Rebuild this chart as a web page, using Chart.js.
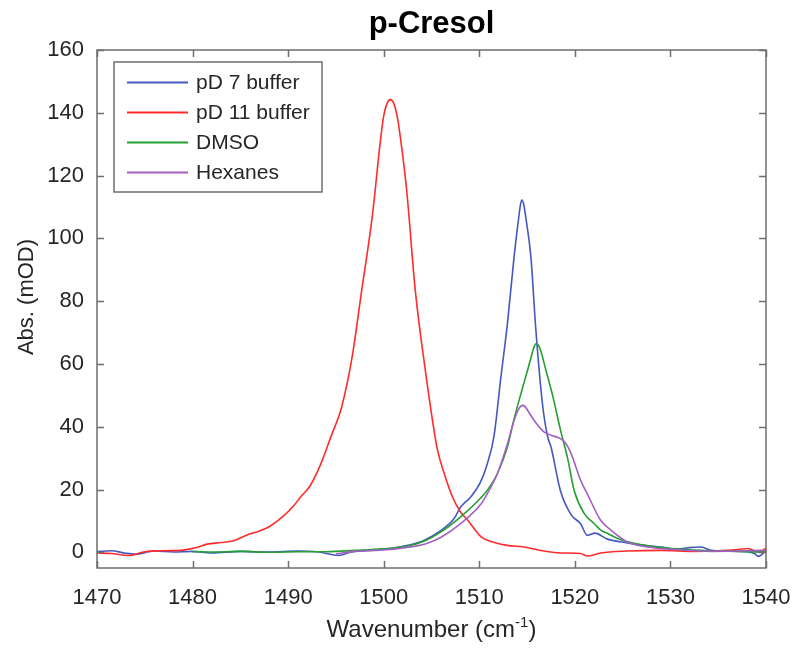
<!DOCTYPE html>
<html>
<head>
<meta charset="utf-8">
<title>p-Cresol</title>
<script src="https://cdn.jsdelivr.net/npm/chart.js@4/dist/chart.umd.min.js"></script>
<style>
    html, body { margin: 0; padding: 0; background: #ffffff; }
    #spectra { display: block; }
</style>
</head>
<body>
<canvas id="spectra" width="798" height="648"></canvas>
<script>
// --- Spectra (wavenumber in cm^-1, absorbance in mOD) ---
const pd7Wn = [1470, 1471.5, 1473, 1474, 1476, 1478, 1480, 1482, 1485, 1488, 1491, 1493, 1495.3, 1496.5, 1498, 1500.7, 1502.5, 1504.2, 1506, 1507.35, 1508.05, 1509.1, 1510.15, 1510.85, 1511.54, 1512.25, 1512.95, 1513.64, 1514.1, 1514.3, 1514.45, 1514.65, 1514.9, 1515.4, 1515.92, 1516.62, 1517.15, 1517.5, 1518.5, 1519.6, 1520.6, 1521.3, 1522.1, 1523.4, 1525.5, 1527.3, 1529, 1530.8, 1532, 1533.2, 1534.3, 1536, 1538, 1538.8, 1539.2, 1540];
const pd7Abs = [0.2, 0.5, -0.3, -0.6, 0.4, 0.1, 0.3, -0.2, 0.3, 0.1, 0.4, 0.2, -1, 0, 0.5, 1.2, 2.2, 3.8, 7, 10.7, 14.4, 17.6, 22.5, 28.3, 37, 55.5, 73, 94.1, 106, 110.6, 112.2, 110.8, 106, 94.1, 70.8, 47, 36.8, 33.6, 19.5, 12, 9.1, 5.4, 6.1, 4.2, 3, 2.2, 1.7, 1, 1.5, 1.7, 0.6, 0.4, 0.2, -0.4, -1.3, 0.6];

const pd11Wn = [1470, 1471.5, 1473.4, 1475, 1477, 1479, 1480.4, 1481.5, 1483, 1484.3, 1485.7, 1487, 1488.1, 1489.5, 1490.6, 1491.3, 1492.3, 1493.4, 1494.5, 1495.6, 1496.7, 1497.7, 1498.8, 1499.65, 1500.0, 1500.35, 1500.7, 1501.05, 1501.4, 1501.75, 1502.4, 1503.3, 1504.4, 1505.6, 1506.4, 1507.2, 1508, 1508.8, 1510.2, 1511.5, 1512.9, 1514.7, 1516.4, 1518.5, 1520.6, 1521.3, 1522.7, 1525.5, 1529, 1532.5, 1535, 1537.1, 1538.1, 1539.2, 1540];
const pd11Abs = [-0.2, -0.4, -1, 0.2, 0.5, 0.7, 1.5, 2.6, 3.1, 3.7, 5.5, 6.8, 8.3, 11.5, 14.9, 17.6, 21.2, 28, 37, 46.3, 62.3, 83.5, 106.9, 131, 139, 143, 144.2, 143, 139, 132, 115.4, 83.5, 57, 33, 24.5, 17.6, 13, 10.2, 4.9, 3.2, 2.2, 1.7, 0.6, -0.2, -0.4, -1.2, -0.2, 0.4, 0.6, 0.3, 0.5, 0.9, 1.2, 0.1, 1.2];

const dmsoWn = [1480, 1482, 1485, 1488, 1491, 1494, 1497, 1500, 1502.5, 1504.2, 1506, 1508.05, 1510.15, 1510.85, 1511.9, 1512.95, 1513.64, 1514.4, 1515.05, 1515.5, 1515.75, 1516, 1516.25, 1516.5, 1516.97, 1517.67, 1518.5, 1519.24, 1519.94, 1520.99, 1522.03, 1522.74, 1523.44, 1524.84, 1527.3, 1530.1, 1532, 1534.3, 1537, 1539.5, 1540];
const dmsoAbs = [0.2, 0.1, 0.3, 0, 0.2, 0.2, 0.6, 1.1, 2, 3.5, 6.5, 11.3, 17.3, 19.8, 25.1, 33.6, 42.5, 51, 58, 63, 65.6, 66.5, 65.6, 63.5, 58, 50, 38.9, 30, 19.5, 12.3, 9.1, 7, 6, 4, 2.2, 1.2, 0.8, 0.4, 0.3, 0.1, 0.3];

const hexWn = [1495, 1497, 1499, 1501, 1503, 1504.5, 1506, 1508.05, 1510.15, 1510.85, 1511.9, 1512.95, 1513.64, 1514.1, 1514.3, 1514.55, 1514.8, 1515, 1515.74, 1516.8, 1517.5, 1518.5, 1519.1, 1519.6, 1520.6, 1521.4, 1522.7, 1523.8, 1525.5, 1527.6, 1530.4, 1534.3, 1537, 1539.5, 1540];
const hexAbs = [-0.5, 0.3, 0.6, 1, 1.8, 2.8, 4.8, 9.1, 15.3, 18.7, 25.1, 34.6, 42, 45.5, 46.4, 46.8, 46.4, 45.5, 42, 38.3, 37.3, 36.2, 34.5, 31.5, 23, 18, 10.2, 7, 3.3, 1.7, 0.9, 0.3, 0.4, 0.6, 0.5];

const seriesNames = ['pD 7 buffer', 'pD 11 buffer', 'DMSO', 'Hexanes'];
const seriesColors = ['#4558c0', '#ff2b2b', '#24a032', '#a45fc2'];

const xTicks = [1470, 1480, 1490, 1500, 1510, 1520, 1530, 1540];
const yTicks = [0, 20, 40, 60, 80, 100, 120, 140, 160];

const FONT = "'Liberation Sans', Arial, Helvetica, sans-serif";
const INK = '#262626';
const FRAME = '#6e6e6e';

function toPoints(wn, abs) {
    return wn.map((w, i) => ({ x: w, y: abs[i] }));
}

const seriesData = [
    toPoints(pd7Wn, pd7Abs),
    toPoints(pd11Wn, pd11Abs),
    toPoints(dmsoWn, dmsoAbs),
    toPoints(hexWn, hexAbs)
];

// later series sit on top (lower order is drawn last)
const datasets = seriesData.map((pts, i) => ({
    label: seriesNames[i],
    data: pts,
    borderColor: seriesColors[i],
    borderWidth: 1.6,
    pointRadius: 0,
    fill: false,
    cubicInterpolationMode: 'monotone',
    order: seriesData.length - 1 - i
}));

// --- Frame, inward ticks, title, axis labels and legend box ---
const decorations = {
    id: 'decorations',
    afterDatasetsDraw(chart) {
        const { ctx, chartArea: a, scales } = chart;
        const tick = 7;
        ctx.save();

        ctx.strokeStyle = FRAME;
        ctx.lineWidth = 1.5;
        ctx.strokeRect(a.left, a.top, a.right - a.left, a.bottom - a.top);

        ctx.beginPath();
        xTicks.forEach(v => {
            const px = Math.round(scales.x.getPixelForValue(v)) + 0.5;
            ctx.moveTo(px, a.bottom); ctx.lineTo(px, a.bottom - tick);
            ctx.moveTo(px, a.top); ctx.lineTo(px, a.top + tick);
        });
        yTicks.forEach(v => {
            const py = Math.round(scales.y.getPixelForValue(v)) + 0.5;
            ctx.moveTo(a.left, py); ctx.lineTo(a.left + tick, py);
            ctx.moveTo(a.right, py); ctx.lineTo(a.right - tick, py);
        });
        ctx.stroke();

        const midX = (a.left + a.right) / 2;

        // title
        ctx.fillStyle = '#000000';
        ctx.font = 'bold 31px ' + FONT;
        ctx.textAlign = 'center';
        ctx.textBaseline = 'alphabetic';
        ctx.fillText('p-Cresol', midX, 33);

        // x axis label with superscript
        ctx.fillStyle = INK;
        const main = 'Wavenumber (cm';
        const sup = '-1';
        const close = ')';
        ctx.font = '24px ' + FONT;
        const wMain = ctx.measureText(main).width;
        const wClose = ctx.measureText(close).width;
        ctx.font = '15px ' + FONT;
        const wSup = ctx.measureText(sup).width;
        let x0 = midX - (wMain + wSup + wClose) / 2;
        const base = 637;
        ctx.textAlign = 'left';
        ctx.font = '24px ' + FONT;
        ctx.fillText(main, x0, base);
        ctx.font = '15px ' + FONT;
        ctx.fillText(sup, x0 + wMain, base - 10);
        ctx.font = '24px ' + FONT;
        ctx.fillText(close, x0 + wMain + wSup, base);

        // y axis label
        ctx.font = '22px ' + FONT;
        ctx.save();
        ctx.translate(27, 297);
        ctx.rotate(-Math.PI / 2);
        ctx.textAlign = 'center';
        ctx.textBaseline = 'middle';
        ctx.fillText('Abs. (mOD)', 0, 0);
        ctx.restore();

        // legend
        const box = { left: 114, top: 62, right: 322, bottom: 192 };
        ctx.fillStyle = '#ffffff';
        ctx.fillRect(box.left, box.top, box.right - box.left, box.bottom - box.top);
        ctx.strokeStyle = FRAME;
        ctx.lineWidth = 1.5;
        ctx.strokeRect(box.left, box.top, box.right - box.left, box.bottom - box.top);
        ctx.font = '21px ' + FONT;
        ctx.textAlign = 'left';
        ctx.textBaseline = 'middle';
        seriesNames.forEach((name, i) => {
            const ry = 82.5 + i * 30;
            ctx.strokeStyle = seriesColors[i];
            ctx.lineWidth = 2;
            ctx.beginPath();
            ctx.moveTo(127, ry);
            ctx.lineTo(188, ry);
            ctx.stroke();
            ctx.fillStyle = INK;
            ctx.fillText(name, 196, ry + 1);
        });

        ctx.restore();
    }
};

new Chart(document.getElementById('spectra').getContext('2d'), {
    type: 'line',
    data: { datasets: datasets },
    options: {
        responsive: false,
        animation: false,
        layout: { padding: { top: 50, right: 32, bottom: 0, left: 0 } },
        plugins: {
            legend: { display: false },
            title: { display: false },
            tooltip: { enabled: false }
        },
        scales: {
            x: {
                type: 'linear',
                min: 1470,
                max: 1540,
                afterFit: (scale) => {
                    scale.height = 80;
                    scale.paddingLeft = 0;
                    scale.paddingRight = 0;
                },
                afterBuildTicks: (scale) => { scale.ticks = xTicks.map(v => ({ value: v })); },
                grid: { display: false, drawTicks: false },
                border: { display: false },
                ticks: {
                    color: INK,
                    font: { family: FONT, size: 22 },
                    padding: 17,
                    maxRotation: 0,
                    autoSkip: false,
                    callback: (v) => String(v)
                }
            },
            y: {
                type: 'linear',
                min: -5,
                max: 160,
                afterFit: (scale) => {
                    scale.width = 97;
                    scale.paddingTop = 0;
                    scale.paddingBottom = 0;
                },
                afterBuildTicks: (scale) => { scale.ticks = yTicks.map(v => ({ value: v })); },
                grid: { display: false, drawTicks: false },
                border: { display: false },
                ticks: {
                    color: INK,
                    font: { family: FONT, size: 22 },
                    padding: 13,
                    autoSkip: false,
                    callback: (v) => String(v)
                }
            }
        }
    },
    plugins: [decorations]
});
</script>
</body>
</html>
